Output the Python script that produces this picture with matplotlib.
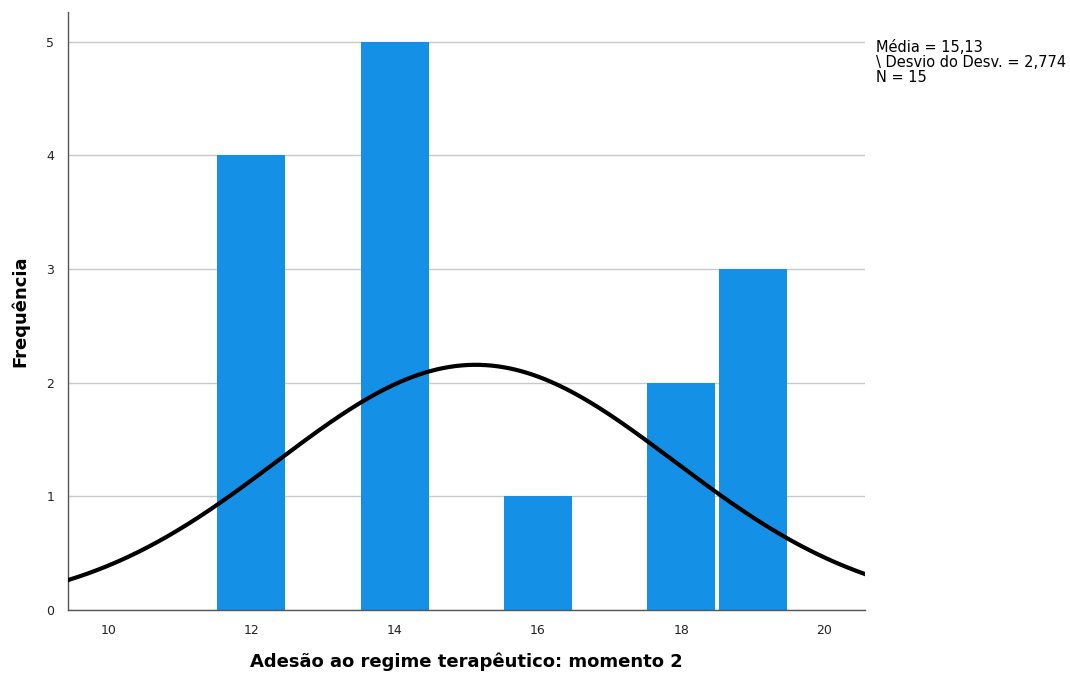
import matplotlib.pyplot as plt
import numpy as np

# histogram data
values = [12, 14, 16, 18, 19]
counts = [4, 5, 1, 2, 3]
media = 15.13
desvio = 2.774
n = 15

fig = plt.figure(figsize=(10.7, 6.75), dpi=100)
ax = fig.add_axes([0.0636, 0.0963, 0.7444, 0.8857])

ax.bar(values, counts, width=0.95, color='#1490E6', zorder=2)

# normal curve over the histogram
x = np.linspace(9.44, 20.56, 400)
y = n * 1.0 / (desvio * np.sqrt(2 * np.pi)) * np.exp(-0.5 * ((x - media) / desvio) ** 2)
ax.plot(x, y, color='black', lw=3, zorder=3)

ax.set_xlim(9.44, 20.56)
ax.set_ylim(0, 5.26)
ax.set_xticks([10, 12, 14, 16, 18, 20])
ax.set_yticks([0, 1, 2, 3, 4, 5])
ax.tick_params(length=0, labelsize=9, colors='#222222', pad=10)
ax.yaxis.grid(True, color='#C8C8C8', lw=1, zorder=0)
ax.set_axisbelow(True)

for s in ['top', 'right']:
    ax.spines[s].set_visible(False)
for s in ['left', 'bottom']:
    ax.spines[s].set_color('#555555')
    ax.spines[s].set_linewidth(1)

ax.set_ylabel('Frequência', fontsize=13, fontweight='bold', labelpad=12)
ax.set_xlabel('Adesão ao regime terapêutico: momento 2', fontsize=13,
              fontweight='bold', labelpad=11)

fig.text(0.819, 0.94, 'Média = 15,13\n\\ Desvio do Desv. = 2,774\nN = 15',
         fontsize=10.5, va='top', ha='left', linespacing=0.98)

fig.savefig('out.png', dpi=100)
